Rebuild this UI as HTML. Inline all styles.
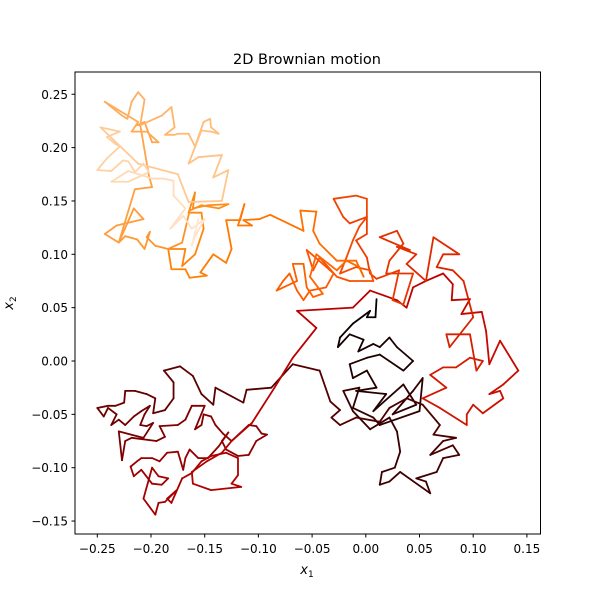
<!DOCTYPE html>
<html><head><meta charset="utf-8"><title>2D Brownian motion</title>
<style>
html,body{margin:0;padding:0;background:#fff;}
svg{display:block;font-family:"DejaVu Sans","Liberation Sans",sans-serif;}
</style></head>
<body>
<svg id="chart" width="600" height="600" viewBox="0 0 600 600">
<rect x="0" y="0" width="600" height="600" fill="#fff"/>
<text x="307" y="64" text-anchor="middle" font-size="14.5" fill="#000">2D Brownian motion</text>
<g id="plot"></g>
<g id="xaxis"></g>
<g id="yaxis"></g>
<rect x="75" y="72" width="465.5" height="462" fill="none" stroke="#000" stroke-width="1"/>
<text x="307" y="574" text-anchor="middle" font-size="13" font-style="italic">x<tspan font-size="9" dy="3" font-style="normal">1</tspan></text>
<text transform="translate(13,303) rotate(-90)" text-anchor="middle" font-size="13" font-style="italic">x<tspan font-size="9" dy="3" font-style="normal">2</tspan></text>
</svg>
<script>
const xTicks = [-0.25,-0.20,-0.15,-0.10,-0.05,0.00,0.05,0.10,0.15];
const xTickLabels = ["\u22120.25","\u22120.20","\u22120.15","\u22120.10","\u22120.05","0.00","0.05","0.10","0.15"];
const yTicks = [-0.15,-0.10,-0.05,0.00,0.05,0.10,0.15,0.20,0.25];
const yTickLabels = ["\u22120.15","\u22120.10","\u22120.05","0.00","0.05","0.10","0.15","0.20","0.25"];
const walk = [
[0.010,0.058],[0.009,0.041],[0.001,0.041],[0.004,0.047],[-0.012,0.035],[-0.024,0.022],[-0.026,0.013],[-0.015,0.025],[-0.002,0.020],[-0.007,0.009],[0.007,0.016],[0.013,0.013],[0.022,0.022],[0.029,0.013],[0.044,0.000],[0.035,-0.009],[0.013,0.006],[0.001,0.003],[-0.015,-0.003],
[-0.012,-0.016],[0.001,-0.009],[0.010,-0.025],[-0.009,-0.028],[0.019,-0.031],[0.007,-0.047],[0.035,-0.022],[0.047,-0.041],[0.025,-0.050],[0.044,-0.028],[0.053,-0.016],[0.050,-0.047],[0.013,-0.060],[0.007,-0.053],[-0.012,-0.044],[-0.006,-0.025],[-0.021,-0.028],[-0.012,-0.047],[0.004,-0.064],[0.022,-0.053],[0.029,-0.066],
[0.032,-0.085],[0.027,-0.100],[0.015,-0.104],[0.013,-0.116],[0.022,-0.113],[0.032,-0.104],[0.060,-0.124],[0.056,-0.113],[0.047,-0.110],[0.066,-0.104],[0.072,-0.091],[0.087,-0.088],[0.081,-0.079],[0.060,-0.088],[0.072,-0.075],[0.084,-0.072],[0.063,-0.069],[0.069,-0.060],[0.053,-0.041],[0.038,-0.035],[0.022,-0.044],[0.013,-0.057],[-0.009,-0.053],[-0.024,-0.060],[-0.032,-0.053],[-0.024,-0.046],[-0.033,-0.038],[-0.043,-0.009],[-0.068,-0.003],
[-0.088,-0.025],[-0.111,-0.027],[-0.114,-0.039],[-0.140,-0.025],[-0.142,-0.041],[-0.153,-0.031],[-0.161,-0.014],[-0.173,-0.005],[-0.188,-0.009],[-0.179,-0.020],[-0.179,-0.035],[-0.187,-0.046],[-0.198,-0.049],[-0.196,-0.035],[-0.204,-0.031],[-0.215,-0.028],[-0.224,-0.028],[-0.225,-0.039],[-0.233,-0.042],[-0.240,-0.042],[-0.250,-0.044],[-0.244,-0.052],[-0.240,-0.044],[-0.232,-0.050],[-0.237,-0.060],[-0.230,-0.055],[-0.224,-0.060],[-0.216,-0.052],[-0.209,-0.047],[-0.201,-0.042],[-0.206,-0.050],[-0.210,-0.060],[-0.204,-0.061],[-0.198,-0.058],[-0.207,-0.072],[-0.230,-0.066],[-0.227,-0.093],[-0.224,-0.075],[-0.218,-0.072],[-0.195,-0.075],[-0.187,-0.071],[-0.192,-0.061],[-0.175,-0.060],[-0.168,-0.055],[-0.162,-0.042],[-0.150,-0.042],[-0.159,-0.064],[-0.153,-0.060],[-0.151,-0.050],[-0.144,-0.052],[-0.140,-0.060],[-0.133,-0.068],[-0.125,-0.075],[-0.109,-0.060],[-0.102,-0.061],[-0.097,-0.068],[-0.092,-0.069],[-0.102,-0.075],[-0.109,-0.088],[-0.119,-0.089],[-0.130,-0.083],[-0.134,-0.075],[-0.128,-0.067],[-0.137,-0.080],[-0.147,-0.091],[-0.156,-0.091],[-0.164,-0.083],[-0.168,-0.091],[-0.170,-0.102],[-0.175,-0.085],[-0.185,-0.086],[-0.192,-0.094],[-0.199,-0.091],[-0.209,-0.091],[-0.213,-0.094],[-0.219,-0.099],[-0.216,-0.108],[-0.209,-0.102],[-0.199,-0.115],[-0.190,-0.116],[-0.184,-0.110],[-0.193,-0.108],[-0.199,-0.100],[-0.207,-0.129],[-0.196,-0.144],[-0.193,-0.133],[-0.187,-0.132],[-0.176,-0.121],[-0.185,-0.129],[-0.181,-0.133],[-0.171,-0.110],[-0.162,-0.105],[-0.153,-0.094],[-0.144,-0.089],[-0.130,-0.086],[-0.119,-0.091],[-0.119,-0.107],[-0.125,-0.115],[-0.116,-0.118],[-0.144,-0.121],[-0.161,-0.115],[-0.162,-0.104],[-0.148,-0.094],[-0.134,-0.086],[-0.125,-0.075],[-0.106,-0.058],[-0.085,-0.025],[-0.068,0.003],
[-0.046,0.031],[-0.064,0.047],[-0.012,0.050],[0.004,0.066],[0.029,0.057],[0.038,0.050],[0.044,0.069],[0.056,0.075],[0.072,0.082],[0.081,0.072],[0.080,0.057],[0.097,0.058],[0.089,0.044],[0.108,0.046],[0.112,0.028],[0.115,-0.003],[0.125,0.019],[0.142,-0.009],[0.128,-0.022],[0.115,-0.031],[0.125,-0.028],[0.128,-0.035],[0.109,-0.049],[0.100,-0.041],[0.094,-0.050],[0.094,-0.060],[0.069,-0.044],[0.053,-0.035],[0.075,-0.025],[0.060,-0.013],[0.072,-0.006],[0.084,-0.006],[0.097,0.003],[0.109,0.000],[0.103,-0.009],[0.097,0.025],[0.075,0.025],[0.078,0.013],[0.100,0.041],[0.091,0.075],[0.081,0.085],[0.066,0.088],[0.072,0.100],[0.087,0.100],[0.063,0.116],[0.056,0.075],
[0.038,0.091],[0.047,0.100],[0.029,0.107],[0.041,0.104],[0.013,0.116],[0.029,0.122],[0.035,0.110],[0.022,0.094],[0.019,0.082],[0.044,0.082],[0.035,0.053],[0.025,0.057],[0.031,0.085],[0.010,0.077],[0.004,0.082],[0.001,0.097],[-0.009,0.113],[0.001,0.119],[0.001,0.135],[-0.015,0.129],[-0.021,0.135],[-0.030,0.152],[-0.009,0.155],[0.001,0.152],[0.001,0.135],[-0.006,0.126],[-0.012,0.113],[-0.018,0.097],[-0.024,0.082],[-0.009,0.088],[0.004,0.085],[0.007,0.075],
[-0.015,0.075],[-0.027,0.079],[-0.043,0.097],[-0.049,0.085],[-0.055,0.104],[-0.040,0.091],[-0.030,0.082],[-0.037,0.069],[-0.052,0.066],[-0.058,0.057],[-0.064,0.066],[-0.071,0.082],[-0.077,0.075],[-0.083,0.066],[-0.064,0.075],[-0.068,0.091],[-0.058,0.091],[-0.055,0.069],[-0.049,0.060],[-0.040,0.063],[-0.052,0.079],[-0.046,0.100],[-0.027,0.085],[-0.018,0.094],[-0.006,0.088],[-0.002,0.079],[-0.009,0.094],[-0.027,0.094],[-0.043,0.110],[-0.049,0.122],[-0.046,0.140],[-0.061,0.141],[-0.058,0.122],[-0.089,0.137],
[-0.099,0.133],[-0.114,0.132],[-0.106,0.127],[-0.119,0.127],[-0.113,0.147],[-0.117,0.132],[-0.130,0.132],[-0.125,0.105],[-0.130,0.092],[-0.142,0.100],[-0.154,0.083],[-0.148,0.080],[-0.164,0.078],[-0.168,0.086],[-0.181,0.086],[-0.184,0.105],[-0.168,0.105],[-0.171,0.089],[-0.159,0.100],[-0.151,0.124],[-0.153,0.139],[-0.165,0.139],[-0.159,0.158],[-0.161,0.143],[-0.147,0.146],[-0.128,0.147],[-0.137,0.143],[-0.153,0.146],[-0.164,0.141],[-0.171,0.111],[-0.184,0.105],[-0.196,0.108],[-0.204,0.116],[-0.201,0.121],[-0.206,0.105],[-0.213,0.114],[-0.224,0.117],[-0.230,0.111],[-0.216,0.143],[-0.207,0.133],[-0.232,0.127],[-0.243,0.119],[-0.230,0.111],
[-0.215,0.161],[-0.199,0.163],[-0.202,0.174],[-0.210,0.221],[-0.213,0.221],[-0.206,0.224],[-0.199,0.205],[-0.193,0.205],[-0.204,0.215],[-0.218,0.215],[-0.212,0.224],[-0.243,0.243],[-0.227,0.230],[-0.222,0.227],[-0.218,0.243],[-0.212,0.252],[-0.206,0.245],[-0.210,0.221],[-0.190,0.230],[-0.181,0.238],[-0.178,0.219],[-0.187,0.212],[-0.178,0.212],[-0.175,0.213],[-0.165,0.213],[-0.159,0.201],[-0.151,0.224],[-0.145,0.227],[-0.144,0.219],[-0.137,0.213],[-0.144,0.215],[-0.153,0.216],[-0.165,0.185],[-0.156,0.191],[-0.134,0.193],[-0.142,0.172],[-0.128,0.179],[-0.134,0.150],[-0.165,0.149],
[-0.175,0.175],[-0.212,0.185],[-0.247,0.219],[-0.229,0.215],[-0.241,0.210],[-0.234,0.204],[-0.229,0.201],[-0.241,0.190],[-0.250,0.179],[-0.237,0.178],[-0.226,0.188],[-0.221,0.187],[-0.215,0.177],[-0.207,0.185],[-0.202,0.177],[-0.221,0.168],[-0.237,0.168],[-0.221,0.178],
[-0.199,0.171],[-0.189,0.171],[-0.179,0.169],[-0.179,0.155],[-0.168,0.143],[-0.182,0.124],[-0.170,0.136],[-0.162,0.124],[-0.150,0.133],[-0.159,0.117],[-0.162,0.108],[-0.156,0.133]
];

const NS = "http://www.w3.org/2000/svg";
const X0 = 365.8, XS = 1074, Y0 = 361, YS = 1067;
function sx(v){ return X0 + v*XS; }
function sy(v){ return Y0 - v*YS; }
function heat(t){
  const r = Math.min(1, Math.max(0, 1.5*t));
  const g = Math.min(1, Math.max(0, 2*t-1));
  const b = Math.min(1, Math.max(0, 4*t-3));
  return "rgb(" + Math.round(r*255) + "," + Math.round(g*255) + "," + Math.round(b*255) + ")";
}
const plot = document.getElementById("plot");
const n = walk.length;
for (let i = 0; i < n-1; i++) {
  const ln = document.createElementNS(NS, "line");
  ln.setAttribute("x1", sx(walk[i][0]).toFixed(2));
  ln.setAttribute("y1", sy(walk[i][1]).toFixed(2));
  ln.setAttribute("x2", sx(walk[i+1][0]).toFixed(2));
  ln.setAttribute("y2", sy(walk[i+1][1]).toFixed(2));
  ln.setAttribute("stroke", heat(0.02 + 0.93*Math.pow(i/(n-2), 0.85)));
  ln.setAttribute("stroke-width", "1.8");
  ln.setAttribute("stroke-linecap", "round");
  
  
  plot.appendChild(ln);
}
const xaxis = document.getElementById("xaxis");
xTicks.forEach((v, i) => {
  const t = document.createElementNS(NS, "line");
  t.setAttribute("x1", sx(v)); t.setAttribute("x2", sx(v));
  t.setAttribute("y1", 534); t.setAttribute("y2", 537.5);
  t.setAttribute("stroke", "#000");
  
  
  xaxis.appendChild(t);
  const lb = document.createElementNS(NS, "text");
  lb.setAttribute("x", sx(v)); lb.setAttribute("y", 553);
  lb.setAttribute("text-anchor", "middle"); lb.setAttribute("font-size", "12");
  lb.textContent = xTickLabels[i];
  
  
  xaxis.appendChild(lb);
});
const yaxis = document.getElementById("yaxis");
yTicks.forEach((v, i) => {
  const t = document.createElementNS(NS, "line");
  t.setAttribute("x1", 71.5); t.setAttribute("x2", 75);
  t.setAttribute("y1", sy(v)); t.setAttribute("y2", sy(v));
  t.setAttribute("stroke", "#000");
  
  
  yaxis.appendChild(t);
  const lb = document.createElementNS(NS, "text");
  lb.setAttribute("x", 68); lb.setAttribute("y", sy(v) + 4.5);
  lb.setAttribute("text-anchor", "end"); lb.setAttribute("font-size", "12");
  lb.textContent = yTickLabels[i];
  
  
  yaxis.appendChild(lb);
});
</script>
</body></html>
